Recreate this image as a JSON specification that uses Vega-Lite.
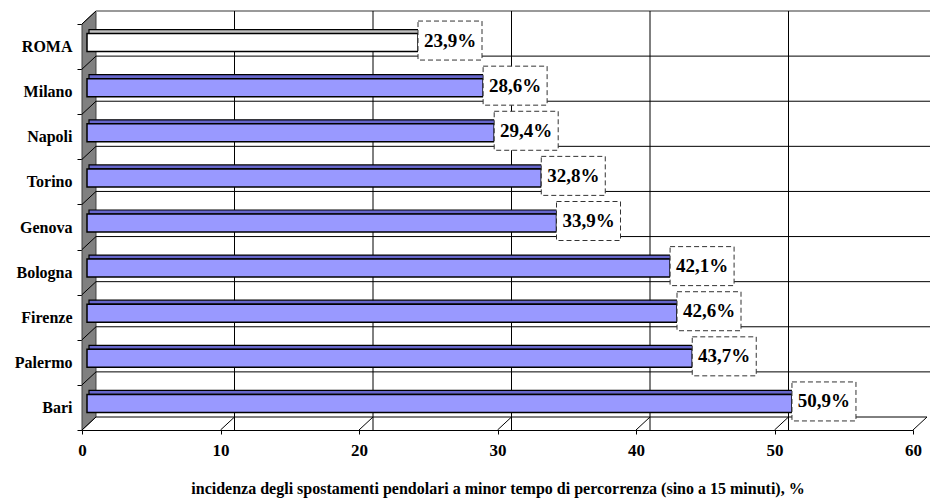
{
  "$schema": "https://vega.github.io/schema/vega-lite/v6.json",
  "width": 831,
  "height": 406,
  "autosize": "none",
  "padding": {"left": 82, "top": 24, "right": 17, "bottom": 69},
  "background": "#ffffff",
  "config": {
    "view": {"stroke": null},
    "font": "Liberation Serif"
  },
  "datasets": {
    "cities": [
      {"city": "ROMA", "value": 23.9},
      {"city": "Milano", "value": 28.6},
      {"city": "Napoli", "value": 29.4},
      {"city": "Torino", "value": 32.8},
      {"city": "Genova", "value": 33.9},
      {"city": "Bologna", "value": 42.1},
      {"city": "Firenze", "value": 42.6},
      {"city": "Palermo", "value": 43.7},
      {"city": "Bari", "value": 50.9}
    ],
    "ticks": [
      {"tick": 0}, {"tick": 10}, {"tick": 20}, {"tick": 30},
      {"tick": 40}, {"tick": 50}, {"tick": 60}
    ]
  },
  "layer": [
    {
      "description": "grey left side wall of the 3D box",
      "data": {"values": [{}]},
      "mark": {
        "type": "point",
        "shape": "M-0.0334,-0.938L0.0334,-1L0.0334,0.938L-0.0334,1Z",
        "size": 175561,
        "filled": true,
        "opacity": 1,
        "fill": "#808080",
        "stroke": "#404040",
        "strokeWidth": 1,
        "xOffset": 7,
        "yOffset": -6.5
      },
      "encoding": {
        "x": {"datum": 0, "type": "quantitative"}
      }
    },
    {
      "description": "back wall horizontal lines at category boundaries",
      "data": {"name": "cities"},
      "mark": {"type": "rule", "yOffset": -13, "xOffset": 14, "x2Offset": 17},
      "encoding": {
        "y": {"field": "city", "type": "nominal", "sort": null, "bandPosition": 0},
        "x": {"datum": 0, "type": "quantitative"},
        "x2": {"datum": 60},
        "color": {
          "condition": {"test": "datum.city === 'ROMA'", "value": "#999999"},
          "value": "#000000"
        },
        "strokeWidth": {
          "condition": {"test": "datum.city === 'ROMA'", "value": 2},
          "value": 1
        }
      }
    },
    {
      "description": "back wall vertical gridlines",
      "data": {"name": "ticks"},
      "transform": [{"filter": "datum.tick > 0 && datum.tick < 60"}],
      "mark": {"type": "rule", "color": "#000000", "strokeWidth": 1, "xOffset": 14, "yOffset": -13, "y2Offset": -13},
      "encoding": {
        "x": {"field": "tick", "type": "quantitative"}
      }
    },
    {
      "description": "back edge of the floor",
      "data": {"values": [{}]},
      "mark": {"type": "rule", "color": "#000000", "strokeWidth": 1, "yOffset": -13, "xOffset": 14, "x2Offset": 14},
      "encoding": {
        "y": {"datum": "Bari", "bandPosition": 1},
        "x": {"datum": 0, "type": "quantitative"},
        "x2": {"datum": 60}
      }
    },
    {
      "description": "depth lines on the side wall",
      "data": {"name": "cities"},
      "mark": {"type": "point", "shape": "M0,0L1,-0.9286", "size": 784, "filled": false, "opacity": 1, "stroke": "#000000", "strokeWidth": 1},
      "encoding": {
        "y": {"field": "city", "type": "nominal", "sort": null, "bandPosition": 0},
        "x": {"datum": 0, "type": "quantitative"}
      }
    },
    {
      "description": "depth lines on the floor",
      "data": {"name": "ticks"},
      "mark": {"type": "point", "shape": "M0,0L1,-0.9286", "size": 784, "filled": false, "opacity": 1, "stroke": "#000000", "strokeWidth": 1},
      "encoding": {
        "y": {"datum": "Bari", "bandPosition": 1},
        "x": {"field": "tick", "type": "quantitative"}
      }
    },
    {
      "description": "top faces of the bars",
      "data": {"name": "cities"},
      "mark": {"type": "bar", "size": 4, "yOffset": -15, "xOffset": 7, "x2Offset": 7, "stroke": "#000000", "strokeWidth": 1.2},
      "encoding": {
        "y": {"field": "city", "type": "nominal", "sort": null},
        "x": {"field": "value", "type": "quantitative"},
        "fill": {
          "condition": {"test": "datum.city === 'ROMA'", "value": "#c0c0c0"},
          "value": "#6666cc"
        }
      }
    },
    {
      "description": "front faces of the bars",
      "data": {"name": "cities"},
      "mark": {"type": "bar", "size": 18, "yOffset": -4, "xOffset": 5, "x2Offset": 5, "stroke": "#000000", "strokeWidth": 1.5},
      "encoding": {
        "y": {
          "field": "city",
          "type": "nominal",
          "sort": null,
          "scale": {"paddingInner": 0, "paddingOuter": 0},
          "axis": {
            "title": null,
            "domainColor": "#000000",
            "domainWidth": 1,
            "tickColor": "#000000",
            "tickSize": 5,
            "tickBand": "extent",
            "labelFont": "Liberation Serif",
            "labelFontWeight": "bold",
            "labelFontSize": 16,
            "labelColor": "#000000",
            "labelPadding": 5
          }
        },
        "x": {
          "field": "value",
          "type": "quantitative",
          "scale": {"domain": [0, 60], "nice": false, "zero": true},
          "axis": {
            "title": "incidenza degli spostamenti pendolari a minor tempo di percorrenza (sino a 15 minuti), %",
            "values": [0, 10, 20, 30, 40, 50, 60],
            "grid": false,
            "domainColor": "#000000",
            "tickColor": "#000000",
            "tickSize": 4,
            "labelFlush": false,
            "labelFont": "Liberation Serif",
            "labelFontWeight": "bold",
            "labelFontSize": 17,
            "labelColor": "#000000",
            "labelPadding": 8,
            "titleFont": "Liberation Serif",
            "titleFontWeight": "bold",
            "titleFontSize": 16,
            "titleColor": "#000000",
            "titlePadding": 22
          }
        },
        "fill": {
          "condition": {"test": "datum.city === 'ROMA'", "value": "#ffffff"},
          "value": "#9999ff"
        }
      }
    },
    {
      "description": "dashed boxes behind the value labels",
      "data": {"name": "cities"},
      "mark": {"type": "bar", "size": 39, "yOffset": -6, "xOffset": 5, "x2Offset": 69, "fill": "#ffffff", "stroke": "#333333", "strokeWidth": 1, "strokeDash": [5, 3]},
      "encoding": {
        "y": {"field": "city", "type": "nominal", "sort": null},
        "x": {"field": "value", "type": "quantitative"},
        "x2": {"field": "value"}
      }
    },
    {
      "description": "value labels",
      "data": {"name": "cities"},
      "transform": [
        {"calculate": "replace(format(datum.value, '.1f'), '.', ',') + '%'", "as": "label"}
      ],
      "mark": {"type": "text", "xOffset": 37, "yOffset": -6, "align": "center", "baseline": "middle", "font": "Liberation Serif", "fontWeight": "bold", "fontSize": 19, "color": "#000000"},
      "encoding": {
        "y": {"field": "city", "type": "nominal", "sort": null},
        "x": {"field": "value", "type": "quantitative"},
        "text": {"field": "label"}
      }
    }
  ]
}
